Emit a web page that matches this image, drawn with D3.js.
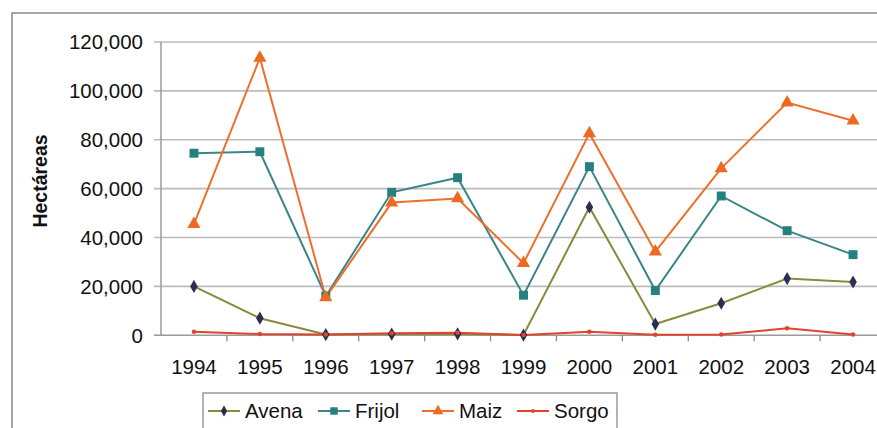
<!DOCTYPE html>
<html>
<head>
<meta charset="utf-8">
<script src="https://cdn.jsdelivr.net/npm/d3@7"></script>
<style>
  body { margin: 0; background: #fff; }
  text { font-family: "Liberation Sans", Arial, sans-serif; fill: #111; }
</style>
</head>
<body>
<script>
// data
const years = ['1994','1995','1996','1997','1998','1999','2000','2001','2002','2003','2004'];
const avena  = [20000, 7000, 300, 500, 600, 100, 52400, 4600, 13100, 23200, 21800];
const frijol = [74500, 75100, 16000, 58500, 64500, 16400, 69000, 18300, 57000, 42800, 33000];
const maiz   = [45500, 113500, 15500, 54300, 56000, 29500, 82600, 34200, 68300, 95200, 87800];
const sorgo  = [1500, 500, 300, 800, 1000, 100, 1500, 200, 300, 2900, 300];
const yTicks = [0, 20000, 40000, 60000, 80000, 100000, 120000];

const series = [
  {name:'Avena',  values:avena,  line:'#8a8a3c', mark:'#2b2d55', shape:d3.symbolDiamond, size:50},
  {name:'Frijol', values:frijol, line:'#3a8587', mark:'#26807f', shape:d3.symbolSquare, size:80},
  {name:'Maiz',   values:maiz,   line:'#ee6f2c', mark:'#ee6a22', shape:d3.symbolTriangle, size:75},
  {name:'Sorgo',  values:sorgo,  line:'#e2432d', mark:'#e2432d', shape:d3.symbolCircle, size:16}
];

const W = 877, H = 428;
const plot = {left:161, right:886, top:42, bottom:335.3};

const svg = d3.select('body').append('svg').attr('width', W).attr('height', H);

// outer frame
svg.append('rect').attr('x', 12).attr('y', 13).attr('width', 900).attr('height', 430)
  .attr('fill', 'none').attr('stroke', '#8a8a8a').attr('stroke-width', 1.5);

const x = d3.scalePoint().domain(years).range([plot.left, plot.right]).padding(0.5);
const y = d3.scaleLinear().domain([0, 120000]).range([plot.bottom, plot.top]);

// gridlines
svg.append('g').selectAll('line').data(yTicks).join('line')
  .attr('x1', plot.left - 7).attr('x2', plot.right)
  .attr('y1', d=>y(d)).attr('y2', d=>y(d))
  .attr('stroke', d=>d===0 ? '#9a9a9a' : '#bcbcbc').attr('stroke-width', 1.6);

// y axis line
svg.append('line').attr('x1', plot.left).attr('x2', plot.left)
  .attr('y1', plot.top).attr('y2', plot.bottom)
  .attr('stroke', '#9a9a9a').attr('stroke-width', 1.5);

// x ticks between categories
const step = x.step();
svg.append('g').selectAll('line').data(years.slice(0, -1)).join('line')
  .attr('x1', d=>x(d) + step/2).attr('x2', d=>x(d) + step/2)
  .attr('y1', plot.bottom).attr('y2', plot.bottom + 6)
  .attr('stroke', '#8a8a8a').attr('stroke-width', 1.3);

// y labels
const fmt = d3.format(',');
svg.append('g').selectAll('text').data(yTicks).join('text')
  .attr('x', 143).attr('y', d=>y(d)).attr('dy', '0.36em')
  .attr('text-anchor', 'end').style('font-size', '20.5px')
  .text(d=>fmt(d));

// x labels
svg.append('g').selectAll('text').data(years).join('text')
  .attr('x', d=>x(d)).attr('y', 374)
  .attr('text-anchor', 'middle').style('font-size', '20.5px')
  .text(d=>d);

// y title
svg.append('text')
  .attr('transform', 'translate(47,181) rotate(-90)')
  .attr('text-anchor', 'middle').style('font-size', '19.5px').style('font-weight', 'bold')
  .text('Hectáreas');

// lines + markers
const lineGen = d3.line().x((d,i)=>x(years[i])).y(d=>y(d));
const g = svg.append('g');
series.forEach(s=>{
  g.append('path').datum(s.values)
    .attr('d', lineGen).attr('fill', 'none')
    .attr('stroke', s.line).attr('stroke-width', 2);
});
series.forEach(s=>{
  g.append('g').selectAll('path').data(s.values).join('path')
    .attr('transform', (d,i)=>`translate(${x(years[i])},${y(d)})`)
    .attr('d', d3.symbol().type(s.shape).size(s.size))
    .attr('fill', s.mark);
});

// legend
const lg = svg.append('g');
lg.append('rect').attr('x', 203).attr('y', 393).attr('width', 414).attr('height', 40)
  .attr('fill', '#fff').attr('stroke', '#8a8a8a').attr('stroke-width', 1.3);
const legendX = [208, 318, 422, 517];
series.forEach((s,i)=>{
  const lx = legendX[i];
  lg.append('line').attr('x1', lx).attr('x2', lx + 32).attr('y1', 411).attr('y2', 411)
    .attr('stroke', s.line).attr('stroke-width', 2);
  lg.append('path').attr('transform', `translate(${lx+16},411)`)
    .attr('d', d3.symbol().type(s.shape).size(s.size*0.7)).attr('fill', s.mark);
  lg.append('text').attr('x', lx + 37).attr('y', 418).style('font-size', '20.5px').text(s.name);
});
</script>
</body>
</html>
